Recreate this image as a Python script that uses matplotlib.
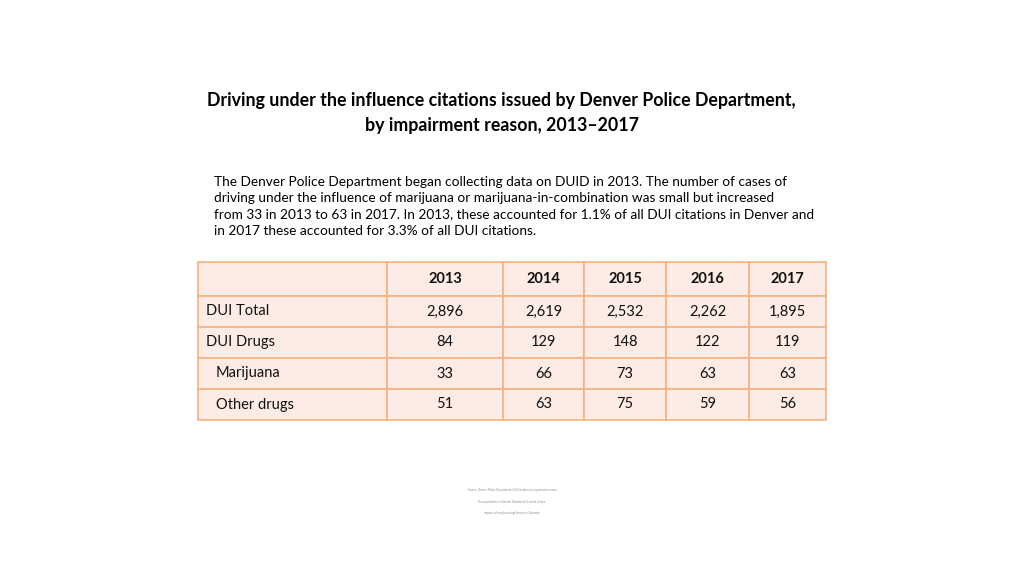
import matplotlib.pyplot as plt

plt.rcParams['font.family'] = ['Lato', 'DejaVu Sans']

title = ("Driving under the influence citations issued by Denver Police Department,\n"
         "by impairment reason, 2013\u20132017")
body = ("The Denver Police Department began collecting data on DUID in 2013. The number of cases of\n"
        "driving under the influence of marijuana or marijuana-in-combination was small but increased\n"
        "from 33 in 2013 to 63 in 2017. In 2013, these accounted for 1.1% of all DUI citations in Denver and\n"
        "in 2017 these accounted for 3.3% of all DUI citations.")

years = ['2013', '2014', '2015', '2016', '2017']
row_labels = ['DUI Total', 'DUI Drugs', 'Marijuana', 'Other drugs']
dui_total = [2896, 2619, 2532, 2262, 1895]
dui_drugs = [84, 129, 148, 122, 119]
marijuana = [33, 66, 73, 63, 63]
other_drugs = [51, 63, 75, 59, 56]

fill = '#fdece6'
edge = '#f5b183'

fig = plt.figure(figsize=(10.24, 5.76), dpi=100)
fig.patch.set_facecolor('white')

fig.text(0.490, 0.804, title, ha='center', va='center', fontsize=12.8,
         fontweight='bold', linespacing=1.58)
fig.text(0.209, 0.694, body, ha='left', va='top', fontsize=9.85, linespacing=1.41)

ax = fig.add_axes([0, 0, 1, 1])
ax.axis('off')

cells = [[''] + years]
for lab, vals in zip(row_labels, [dui_total, dui_drugs, marijuana, other_drugs]):
    cells.append([lab] + [f'{v:,}' for v in vals])

col_w = [189, 116, 81, 82, 83, 77]
tab = ax.table(cellText=cells, colWidths=[w / sum(col_w) for w in col_w],
               cellLoc='center',
               bbox=[198 / 1024, 1 - 420 / 576, 628 / 1024, 158 / 576])
tab.auto_set_font_size(False)
for (r, c), cell in tab.get_celld().items():
    cell.set_facecolor(fill)
    cell.set_edgecolor(edge)
    cell.set_linewidth(1.2)
    cell.set_height(34 if r == 0 else 31)
    txt = cell.get_text()
    txt.set_fontsize(10.5)
    txt.set_color('#111111')
    if r == 0:
        txt.set_fontweight('bold')
    if c == 0:
        txt.set_ha('left')
        cell._loc = 'left'
        cell.PAD = 0.04 if r in (1, 2) else 0.095

# tiny source note at the bottom (illegible in the original)
fig.text(0.500, 0.147, 'Source: Denver Police Department, DUI citations by impairment reason',
         ha='center', fontsize=2, color='#888888')
fig.text(0.500, 0.127, 'Data provided to Colorado Division of Criminal Justice',
         ha='center', fontsize=2, color='#888888')
fig.text(0.500, 0.107, 'Impacts of marijuana legalization in Colorado',
         ha='center', fontsize=2, color='#888888')

fig.savefig('out.png', dpi=100, facecolor='white')
